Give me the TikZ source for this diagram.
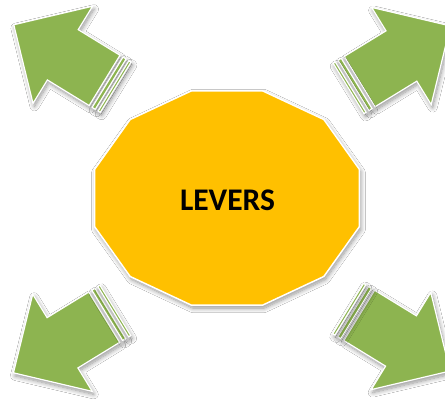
\documentclass[tikz,border=0pt]{standalone}
\usepackage{fontspec}
\setmainfont{Carlito}
\usetikzlibrary{shadows.blur}
\definecolor{lgreen}{RGB}{141,180,80}
\definecolor{lgold}{RGB}{255,192,0}
\tikzset{
  softshadow/.style={blur shadow={shadow xshift=1.5pt, shadow yshift=-3pt, shadow blur radius=4.5pt, shadow blur steps=10, shadow opacity=42}},
  piece/.style={fill=lgreen, draw=white, line width=1.2pt, line join=miter, softshadow},
  poly/.style={fill=lgold, draw=white, line width=1.5pt, line join=miter, softshadow},
  label/.style={font=\fontsize{31.5}{31.5}\selectfont\bfseries, text=black, inner sep=0pt}
}
\newcommand\greenarrow[4]{%
  \begin{scope}[shift={(#1pt,-#2pt)}, rotate=#3]
    \coordinate (#4tip) at (-57.5pt,0);
    \coordinate (#4ha) at (0,57pt);
    \coordinate (#4na) at (0,29.5pt);
    \coordinate (#4ea) at (49pt,29.5pt);
    \coordinate (#4eb) at (49pt,-29.5pt);
    \coordinate (#4nb) at (0,-29.5pt);
    \coordinate (#4hb) at (0,-57pt);
    \coordinate (#4s1) at (52.5pt,29.5pt);
    \coordinate (#4s2) at (56.2pt,29.5pt);
    \coordinate (#4s3) at (56.2pt,-29.5pt);
    \coordinate (#4s4) at (52.5pt,-29.5pt);
    \coordinate (#4t1) at (59.5pt,29.5pt);
    \coordinate (#4t2) at (62pt,29.5pt);
    \coordinate (#4t3) at (62pt,-29.5pt);
    \coordinate (#4t4) at (59.5pt,-29.5pt);
  \end{scope}
  \path[piece] (#4tip) -- (#4ha) -- (#4na) -- (#4ea) -- (#4eb) -- (#4nb) -- (#4hb) -- cycle;
  \path[piece] (#4s1) -- (#4s2) -- (#4s3) -- (#4s4) -- cycle;
  \path[piece] (#4t1) -- (#4t2) -- (#4t3) -- (#4t4) -- cycle;
}
\begin{document}
\begin{tikzpicture}
  \useasboundingbox (0,0) rectangle (445pt,-400pt);
  \clip (0,0) rectangle (445pt,-400pt);
  \fill[white] (0,0) rectangle (445pt,-400pt);
  \greenarrow{62.8}{54.8}{-31.5}{tl}
  \greenarrow{401.4}{56}{211.5}{tr}
  \greenarrow{62.5}{342.8}{31.5}{bl}
  \greenarrow{401}{341}{148.5}{br}
  \foreach \k in {0,...,11}
    \coordinate (d\k) at ({(227+137*cos(15+30*\k))*1pt}, {(-198+111*sin(15+30*\k))*1pt});
  \path[poly] (d0) -- (d1) -- (d2) -- (d3) -- (d4) -- (d5) -- (d6) -- (d7) -- (d8) -- (d9) -- (d10) -- (d11) -- cycle;
  \node[label] (lev) at (227.5pt,-200pt) {LEVERS};
\end{tikzpicture}
\end{document}
